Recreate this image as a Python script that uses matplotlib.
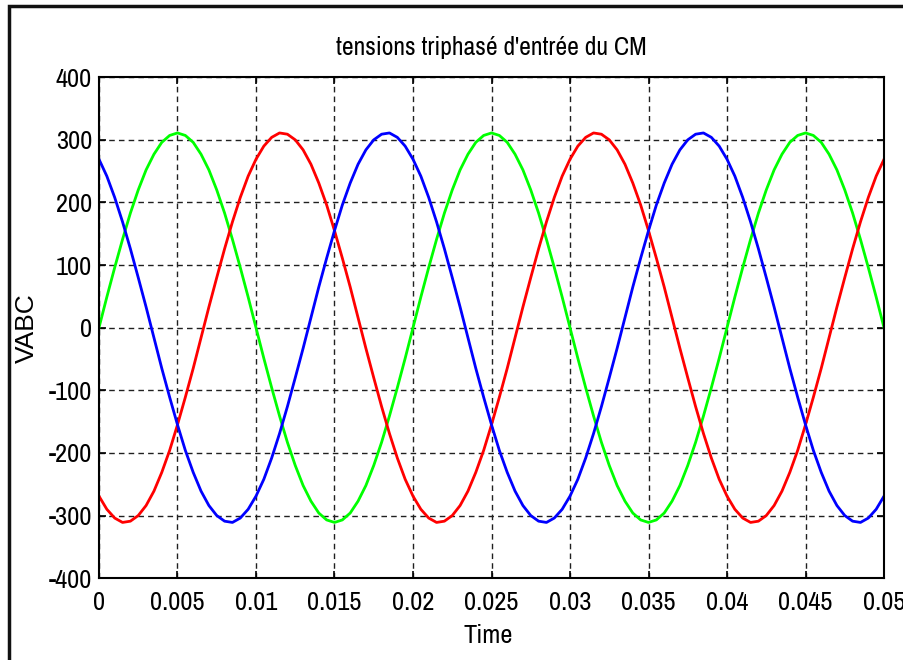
import numpy as np
from matplotlib import pyplot as plt
from matplotlib.patches import Rectangle

plt.rcParams['font.family'] = ['Archivo Narrow', 'Liberation Sans', 'DejaVu Sans']
plt.rcParams['axes.unicode_minus'] = False

# time axis, one sample every 0.5 ms
t = np.arange(101) * 0.0005

# phase voltages (V)
va = [0, 49, 96, 141, 183, 220, 252, 277, 296, 307,
      311, 307, 296, 277, 252, 220, 183, 141, 96, 49,
      0, -49, -96, -141, -183, -220, -252, -277, -296, -307,
      -311, -307, -296, -277, -252, -220, -183, -141, -96, -49,
      0, 49, 96, 141, 183, 220, 252, 277, 296, 307,
      311, 307, 296, 277, 252, 220, 183, 141, 96, 49,
      0, -49, -96, -141, -183, -220, -252, -277, -296, -307,
      -311, -307, -296, -277, -252, -220, -183, -141, -96, -49,
      0, 49, 96, 141, 183, 220, 252, 277, 296, 307,
      311, 307, 296, 277, 252, 220, 183, 141, 96, 49, 0]
vb = [-269, -290, -304, -311, -309, -300, -284, -261, -231, -196,
      -155, -111, -65, -16, 33, 80, 126, 169, 208, 242,
      269, 290, 304, 311, 309, 300, 284, 261, 231, 196,
      155, 111, 65, 16, -33, -80, -126, -169, -208, -242,
      -269, -290, -304, -311, -309, -300, -284, -261, -231, -196,
      -155, -111, -65, -16, 33, 80, 126, 169, 208, 242,
      269, 290, 304, 311, 309, 300, 284, 261, 231, 196,
      155, 111, 65, 16, -33, -80, -126, -169, -208, -242,
      -269, -290, -304, -311, -309, -300, -284, -261, -231, -196,
      -155, -111, -65, -16, 33, 80, 126, 169, 208, 242, 269]
vc = [269, 242, 208, 169, 126, 80, 33, -16, -65, -111,
      -155, -196, -231, -261, -284, -300, -309, -311, -304, -290,
      -269, -242, -208, -169, -126, -80, -33, 16, 65, 111,
      155, 196, 231, 261, 284, 300, 309, 311, 304, 290,
      269, 242, 208, 169, 126, 80, 33, -16, -65, -111,
      -155, -196, -231, -261, -284, -300, -309, -311, -304, -290,
      -269, -242, -208, -169, -126, -80, -33, 16, 65, 111,
      155, 196, 231, 261, 284, 300, 309, 311, 304, 290,
      269, 242, 208, 169, 126, 80, 33, -16, -65, -111,
      -155, -196, -231, -261, -284, -300, -309, -311, -304, -290, -269]

xticks = [0, 0.005, 0.01, 0.015, 0.02, 0.025, 0.03, 0.035, 0.04, 0.045, 0.05]
xticklabels = ['0', '0.005', '0.01', '0.015', '0.02', '0.025', '0.03', '0.035', '0.04', '0.045', '0.05']
yticks = [-400, -300, -200, -100, 0, 100, 200, 300, 400]

fig = plt.figure(figsize=(9.04, 6.6), dpi=100)
ax = fig.add_axes([0.1095, 0.124, 0.8684, 0.759])

ax.plot(t, va, color='#00ff00', lw=2)
ax.plot(t, vb, color='#ff0000', lw=2)
ax.plot(t, vc, color='#0000ff', lw=2)

ax.set_xlim(0, 0.05)
ax.set_ylim(-400, 400)
ax.set_xticks(xticks)
ax.set_xticklabels(xticklabels)
ax.set_yticks(yticks)
ax.grid(True, color='#202020', linestyle=(0, (4, 3)), lw=1)
ax.tick_params(direction='in', length=5, width=1.2, top=True, right=True,
               labelsize=19, pad=5)
ax.tick_params(axis='x', pad=9)
for s in ax.spines.values():
    s.set_linewidth(1.5)

ax.set_title("tensions triphasé d'entrée du CM", fontsize=18.5, pad=16)
ax.set_xlabel('Time', fontsize=19)
ax.xaxis.set_label_coords(0.496, -0.092)
ax.set_ylabel('VABC', fontsize=19, family=['Liberation Sans', 'DejaVu Sans'])
ax.yaxis.set_label_coords(-0.076, 0.5)

# outer frame of the screenshot
fig.add_artist(Rectangle((8.5 / 904, -0.5), 2, 1.5 - 5.5 / 660, transform=fig.transFigure,
                         fill=False, lw=2.5, edgecolor='#111111', clip_on=False))

plt.savefig('out.png', dpi=100)
